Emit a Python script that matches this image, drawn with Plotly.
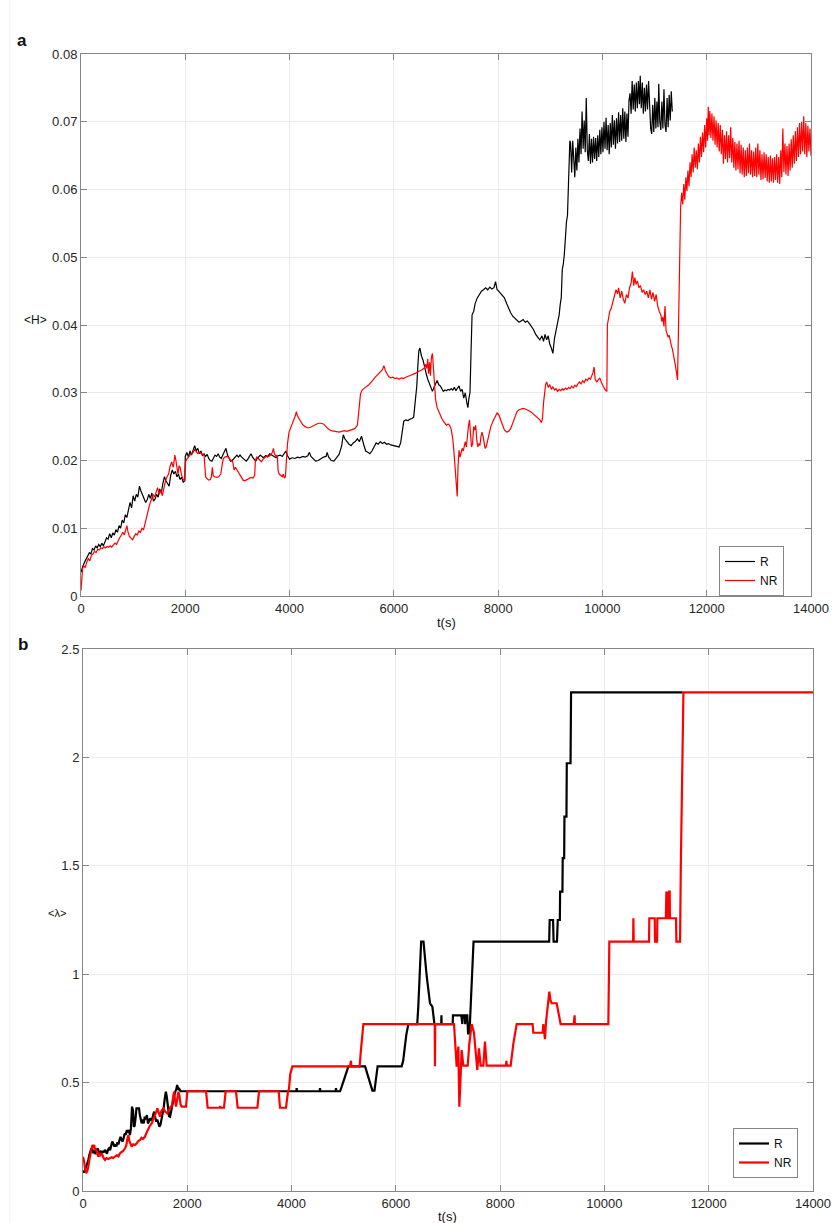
import plotly.graph_objects as go

# ---------------- panel a: mean entropy <H> vs time ----------------
r_h_t = [
    0, 20, 40, 70, 100, 130, 160, 190, 220, 250,
    280, 310, 340, 370, 400, 430, 460, 490, 520, 550,
    580, 610, 640, 670, 700, 730, 760, 790, 820, 850,
    880, 910, 940, 970, 1000, 1030, 1060, 1090, 1120, 1150,
    1180, 1210, 1240, 1270, 1300, 1330, 1360, 1390, 1420, 1450,
    1480, 1510, 1540, 1570, 1600, 1630, 1660, 1690, 1720, 1750,
    1780, 1810, 1840, 1870, 1900, 1930, 1960, 1990, 2000, 2030,
    2060, 2090, 2120, 2150, 2180, 2210, 2240, 2270, 2300, 2330,
    2360, 2390, 2420, 2450, 2480, 2510, 2540, 2570, 2600, 2630,
    2660, 2690, 2720, 2750, 2780, 2810, 2840, 2870, 2900, 2930,
    2960, 2990, 3020, 3050, 3080, 3110, 3140, 3170, 3200, 3230,
    3260, 3290, 3320, 3350, 3380, 3410, 3440, 3470, 3500, 3540,
    3580, 3620, 3660, 3700, 3740, 3780, 3820, 3860, 3900, 3930,
    3960, 4000, 4050, 4100, 4150, 4200, 4250, 4300, 4350, 4380,
    4410, 4450, 4500, 4550, 4600, 4650, 4700, 4720, 4750, 4800,
    4850, 4900, 4950, 5000, 5030, 5060, 5100, 5140, 5180, 5220,
    5260, 5300, 5340, 5380, 5420, 5460, 5500, 5540, 5580, 5620,
    5660, 5700, 5740, 5780, 5820, 5860, 5900, 5940, 5980, 6020,
    6060, 6100, 6130, 6160, 6190, 6230, 6270, 6310, 6350, 6380,
    6410, 6440, 6460, 6480, 6500, 6530, 6560, 6590, 6620, 6650,
    6680, 6710, 6740, 6770, 6800, 6830, 6860, 6890, 6920, 6950,
    6980, 7010, 7040, 7070, 7100, 7130, 7160, 7190, 7220, 7250,
    7280, 7310, 7340, 7370, 7400, 7420, 7440, 7460, 7480, 7500,
    7530, 7560, 7600, 7640, 7680, 7720, 7760, 7800, 7840, 7880,
    7920, 7950, 7980, 8010, 8040, 8080, 8120, 8160, 8200, 8240,
    8280, 8320, 8360, 8400, 8440, 8480, 8520, 8560, 8600, 8640,
    8680, 8720, 8760, 8800, 8840, 8870, 8900, 8930, 8960, 8990,
    9020, 9050, 9080, 9110, 9140, 9170, 9190, 9210, 9230, 9250,
    9270, 9290, 9310, 9330, 9345, 9360, 9375, 9390, 9410, 9430,
    9450, 9470, 9490, 9510, 9530, 9550, 9570, 9590, 9610, 9630,
    9650, 9670, 9690, 9710, 9730, 9750, 9770, 9790, 9810, 9830,
    9850, 9870, 9890, 9910, 9930, 9950, 9970, 9990, 10010, 10030,
    10050, 10070, 10090, 10110, 10130, 10150, 10170, 10190, 10210, 10230,
    10250, 10270, 10290, 10310, 10330, 10350, 10370, 10390, 10410, 10430,
    10450, 10470, 10490, 10510, 10530, 10550, 10570, 10590, 10610, 10630,
    10650, 10670, 10690, 10710, 10725, 10745, 10765, 10785, 10805, 10825,
    10845, 10865, 10885, 10905, 10925, 10945, 10965, 10985, 11005, 11025,
    11045, 11065, 11080, 11100, 11120, 11140, 11160, 11180, 11200, 11220,
    11240, 11260, 11280, 11300, 11320, 11340,
]
r_h_v = [
    0.0035, 0.0042, 0.0045, 0.0050, 0.0055, 0.0058, 0.0064, 0.0062, 0.0070, 0.0068,
    0.0074, 0.0071, 0.0076, 0.0073, 0.0078, 0.0074, 0.0080, 0.0086, 0.0084, 0.0092,
    0.0086, 0.0093, 0.0090, 0.0098, 0.0094, 0.0104, 0.0100, 0.0112, 0.0108, 0.0120,
    0.0116, 0.0128, 0.0138, 0.0130, 0.0148, 0.0140, 0.0150, 0.0146, 0.0162, 0.0155,
    0.0150, 0.0145, 0.0138, 0.0142, 0.0150, 0.0144, 0.0152, 0.0140, 0.0143, 0.0150,
    0.0146, 0.0158, 0.0152, 0.0166, 0.0176, 0.0170, 0.0166, 0.0162, 0.0178, 0.0186,
    0.0180, 0.0184, 0.0176, 0.0180, 0.0172, 0.0175, 0.0168, 0.0170, 0.0206, 0.0212,
    0.0205, 0.0214, 0.0208, 0.0216, 0.0222, 0.0214, 0.0218, 0.0210, 0.0214, 0.0207,
    0.0210, 0.0206, 0.0209, 0.0203, 0.0200, 0.0199, 0.0204, 0.0208, 0.0206, 0.0210,
    0.0205, 0.0203, 0.0208, 0.0212, 0.0218, 0.0208, 0.0203, 0.0199, 0.0200, 0.0203,
    0.0206, 0.0208, 0.0205, 0.0208, 0.0205, 0.0203, 0.0201, 0.0199, 0.0202, 0.0206,
    0.0210, 0.0205, 0.0201, 0.0199, 0.0203, 0.0205, 0.0208, 0.0206, 0.0204, 0.0207,
    0.0206, 0.0210, 0.0208, 0.0206, 0.0204, 0.0207, 0.0208, 0.0206, 0.0210, 0.0214,
    0.0207, 0.0202, 0.0204, 0.0203, 0.0205, 0.0204, 0.0206, 0.0205, 0.0207, 0.0212,
    0.0206, 0.0203, 0.0199, 0.0200, 0.0203, 0.0205, 0.0206, 0.0212, 0.0205, 0.0200,
    0.0199, 0.0205, 0.0209, 0.0222, 0.0238, 0.0232, 0.0228, 0.0224, 0.0222, 0.0226,
    0.0228, 0.0232, 0.0228, 0.0236, 0.0224, 0.0214, 0.0212, 0.0210, 0.0214, 0.0220,
    0.0226, 0.0224, 0.0228, 0.0225, 0.0227, 0.0224, 0.0225, 0.0223, 0.0222, 0.0221,
    0.0220, 0.0220, 0.0226, 0.0240, 0.0258, 0.0260, 0.0259, 0.0261, 0.0262, 0.0264,
    0.0285, 0.0310, 0.0340, 0.0362, 0.0366, 0.0354, 0.0348, 0.0336, 0.0328, 0.0320,
    0.0314, 0.0306, 0.0302, 0.0308, 0.0312, 0.0318, 0.0312, 0.0310, 0.0306, 0.0302,
    0.0304, 0.0303, 0.0305, 0.0304, 0.0306, 0.0304, 0.0308, 0.0303, 0.0307, 0.0310,
    0.0302, 0.0305, 0.0292, 0.0300, 0.0285, 0.0278, 0.0292, 0.0300, 0.0360, 0.0415,
    0.0420, 0.0432, 0.0440, 0.0446, 0.0450, 0.0452, 0.0455, 0.0452, 0.0456, 0.0453,
    0.0455, 0.0464, 0.0452, 0.0450, 0.0447, 0.0444, 0.0440, 0.0432, 0.0424, 0.0418,
    0.0413, 0.0410, 0.0408, 0.0404, 0.0406, 0.0408, 0.0404, 0.0406, 0.0402, 0.0398,
    0.0393, 0.0386, 0.0382, 0.0378, 0.0384, 0.0376, 0.0386, 0.0378, 0.0384, 0.0372,
    0.0366, 0.0358, 0.0380, 0.0392, 0.0405, 0.0415, 0.0430, 0.0440, 0.0482, 0.0490,
    0.0505, 0.0540, 0.0552, 0.0562, 0.0600, 0.0660, 0.0672, 0.0668, 0.0625, 0.0672,
    0.0632, 0.0618, 0.0662, 0.0628, 0.0675, 0.0640, 0.0690, 0.0652, 0.0715, 0.0660,
    0.0702, 0.0655, 0.0735, 0.0658, 0.0642, 0.0682, 0.0638, 0.0675, 0.0640, 0.0678,
    0.0645, 0.0676, 0.0642, 0.0680, 0.0648, 0.0688, 0.0652, 0.0692, 0.0655, 0.0700,
    0.0660, 0.0706, 0.0658, 0.0695, 0.0652, 0.0698, 0.0662, 0.0710, 0.0666, 0.0702,
    0.0660, 0.0705, 0.0668, 0.0714, 0.0670, 0.0710, 0.0672, 0.0720, 0.0675, 0.0715,
    0.0670, 0.0712, 0.0678, 0.0732, 0.0742, 0.0712, 0.0760, 0.0718, 0.0755, 0.0715,
    0.0758, 0.0720, 0.0760, 0.0726, 0.0768, 0.0720, 0.0758, 0.0712, 0.0750, 0.0715,
    0.0755, 0.0718, 0.0760, 0.0710, 0.0690, 0.0682, 0.0725, 0.0685, 0.0735, 0.0690,
    0.0730, 0.0692, 0.0756, 0.0700, 0.0688, 0.0730, 0.0690, 0.0748, 0.0695, 0.0685,
    0.0735, 0.0692, 0.0740, 0.0702, 0.0745, 0.0715,
]

nr_h_t = [
    0, 15, 30, 50, 80, 110, 140, 170, 200, 230,
    260, 290, 320, 350, 380, 410, 440, 470, 500, 530,
    560, 590, 620, 650, 680, 710, 740, 770, 800, 830,
    860, 880, 900, 930, 960, 990, 1020, 1050, 1080, 1110,
    1140, 1170, 1200, 1230, 1260, 1290, 1320, 1350, 1380, 1410,
    1440, 1470, 1500, 1530, 1560, 1590, 1620, 1650, 1680, 1710,
    1740, 1770, 1800, 1820, 1840, 1860, 1880, 1900, 1930, 1960,
    1990, 2005, 2030, 2060, 2090, 2120, 2150, 2180, 2210, 2240,
    2270, 2300, 2330, 2360, 2375, 2390, 2420, 2450, 2480, 2500,
    2520, 2535, 2560, 2600, 2640, 2680, 2710, 2730, 2760, 2790,
    2820, 2850, 2880, 2910, 2935, 2960, 2990, 3020, 3050, 3080,
    3110, 3140, 3170, 3200, 3230, 3260, 3300, 3330, 3345, 3370,
    3400, 3430, 3460, 3490, 3520, 3550, 3580, 3610, 3640, 3670,
    3690, 3710, 3740, 3765, 3780, 3800, 3830, 3860, 3880, 3900,
    3920, 3940, 3960, 3990, 4020, 4050, 4080, 4110, 4130, 4150,
    4180, 4210, 4250, 4300, 4350, 4400, 4450, 4500, 4550, 4600,
    4650, 4700, 4750, 4800, 4850, 4900, 4950, 5000, 5050, 5100,
    5150, 5200, 5250, 5300, 5330, 5360, 5390, 5430, 5470, 5510,
    5550, 5590, 5630, 5670, 5710, 5750, 5780, 5810, 5840, 5870,
    5900, 5940, 5980, 6020, 6060, 6100, 6140, 6180, 6220, 6260,
    6300, 6340, 6380, 6420, 6460, 6500, 6540, 6580, 6610, 6630,
    6650, 6665, 6685, 6700, 6720, 6740, 6760, 6780, 6800, 6830,
    6860, 6890, 6920, 6950, 6980, 7010, 7040, 7070, 7100, 7130,
    7150, 7170, 7190, 7205, 7215, 7230, 7250, 7270, 7290, 7310,
    7330, 7350, 7370, 7390, 7410, 7430, 7450, 7470, 7490, 7510,
    7530, 7550, 7570, 7590, 7610, 7630, 7650, 7670, 7690, 7710,
    7730, 7750, 7770, 7800, 7830, 7860, 7900, 7940, 7980, 8010,
    8040, 8080, 8120, 8160, 8200, 8240, 8280, 8320, 8360, 8400,
    8440, 8480, 8520, 8560, 8600, 8640, 8680, 8720, 8760, 8800,
    8830, 8850, 8870, 8890, 8910, 8930, 8960, 8990, 9020, 9050,
    9080, 9110, 9140, 9170, 9200, 9230, 9260, 9290, 9320, 9350,
    9380, 9410, 9440, 9470, 9500, 9530, 9560, 9590, 9620, 9650,
    9680, 9710, 9740, 9770, 9800, 9820, 9840, 9860, 9890, 9920,
    9950, 9980, 10010, 10040, 10070, 10085, 10095, 10110, 10140, 10170,
    10200, 10230, 10260, 10290, 10310, 10340, 10370, 10400, 10430, 10460,
    10490, 10520, 10550, 10575, 10600, 10620, 10645, 10670, 10700, 10730,
    10760, 10790, 10820, 10850, 10880, 10910, 10940, 10970, 11000, 11030,
    11060, 11090, 11120, 11140, 11160, 11180, 11200, 11220, 11240, 11260,
    11280, 11300, 11320, 11340, 11360, 11380, 11400, 11420, 11440, 11455,
    11470, 11485, 11500, 11520, 11540, 11560, 11580, 11600, 11620, 11640,
    11660, 11680, 11700, 11720, 11740, 11760, 11780, 11800, 11820, 11840,
    11860, 11880, 11900, 11920, 11940, 11960, 11980, 12000, 12015, 12030,
    12045, 12060, 12080, 12100, 12120, 12140, 12160, 12180, 12200, 12220,
    12240, 12260, 12280, 12300, 12320, 12340, 12360, 12380, 12400, 12420,
    12440, 12460, 12480, 12500, 12520, 12540, 12560, 12580, 12600, 12620,
    12640, 12660, 12680, 12700, 12720, 12740, 12760, 12780, 12800, 12820,
    12840, 12860, 12880, 12900, 12920, 12940, 12960, 12980, 13000, 13020,
    13040, 13060, 13080, 13100, 13120, 13140, 13160, 13180, 13200, 13220,
    13240, 13260, 13280, 13300, 13320, 13340, 13360, 13380, 13400, 13420,
    13440, 13460, 13480, 13500, 13520, 13540, 13560, 13580, 13600, 13620,
    13640, 13660, 13680, 13700, 13720, 13740, 13760, 13780, 13800, 13820,
    13840, 13860, 13880, 13900, 13920, 13940, 13960, 13980, 14000,
]
nr_h_v = [
    0.0008, 0.0030, 0.0040, 0.0045, 0.0042, 0.0050, 0.0055, 0.0052, 0.0060, 0.0062,
    0.0066, 0.0064, 0.0069, 0.0068, 0.0071, 0.0070, 0.0073, 0.0071, 0.0073, 0.0072,
    0.0074, 0.0072, 0.0076, 0.0078, 0.0076, 0.0082, 0.0086, 0.0089, 0.0094, 0.0090,
    0.0100, 0.0104, 0.0095, 0.0088, 0.0085, 0.0083, 0.0088, 0.0092, 0.0090, 0.0096,
    0.0094, 0.0100, 0.0098, 0.0108, 0.0116, 0.0128, 0.0136, 0.0142, 0.0150, 0.0146,
    0.0154, 0.0160, 0.0150, 0.0156, 0.0148, 0.0162, 0.0170, 0.0176, 0.0180, 0.0192,
    0.0198, 0.0190, 0.0208, 0.0200, 0.0185, 0.0180, 0.0192, 0.0190, 0.0178, 0.0172,
    0.0170, 0.0198, 0.0202, 0.0206, 0.0208, 0.0210, 0.0212, 0.0216, 0.0212, 0.0210,
    0.0212, 0.0210, 0.0209, 0.0208, 0.0185, 0.0176, 0.0173, 0.0171, 0.0172, 0.0176,
    0.0190, 0.0178, 0.0176, 0.0175, 0.0176, 0.0180, 0.0195, 0.0203, 0.0205, 0.0206,
    0.0205, 0.0202, 0.0200, 0.0198, 0.0186, 0.0190, 0.0186, 0.0181, 0.0177, 0.0173,
    0.0171, 0.0170, 0.0171, 0.0172, 0.0174, 0.0175, 0.0174, 0.0178, 0.0200, 0.0205,
    0.0203, 0.0200, 0.0198, 0.0202, 0.0204, 0.0206, 0.0205, 0.0207, 0.0208, 0.0212,
    0.0218, 0.0210, 0.0206, 0.0208, 0.0185, 0.0180, 0.0178, 0.0176, 0.0180, 0.0174,
    0.0176, 0.0200, 0.0225, 0.0242, 0.0248, 0.0254, 0.0258, 0.0266, 0.0272, 0.0266,
    0.0262, 0.0258, 0.0253, 0.0250, 0.0248, 0.0249, 0.0251, 0.0253, 0.0255, 0.0255,
    0.0254, 0.0250, 0.0246, 0.0244, 0.0243, 0.0243, 0.0242, 0.0243, 0.0244, 0.0243,
    0.0244, 0.0246, 0.0247, 0.0252, 0.0272, 0.0298, 0.0304, 0.0307, 0.0309, 0.0311,
    0.0314, 0.0318, 0.0322, 0.0325, 0.0328, 0.0332, 0.0334, 0.0340, 0.0332, 0.0328,
    0.0324, 0.0322, 0.0323, 0.0321, 0.0322, 0.0320, 0.0322, 0.0321, 0.0323, 0.0324,
    0.0325, 0.0326, 0.0328, 0.0329, 0.0331, 0.0332, 0.0334, 0.0336, 0.0342, 0.0336,
    0.0350, 0.0328, 0.0345, 0.0325, 0.0352, 0.0358, 0.0330, 0.0300, 0.0290, 0.0278,
    0.0272, 0.0266, 0.0262, 0.0258, 0.0255, 0.0252, 0.0254, 0.0252, 0.0246, 0.0232,
    0.0215, 0.0190, 0.0165, 0.0150, 0.0147, 0.0190, 0.0215, 0.0205, 0.0212, 0.0218,
    0.0214, 0.0222, 0.0228, 0.0220, 0.0238, 0.0250, 0.0260, 0.0235, 0.0220, 0.0225,
    0.0250, 0.0245, 0.0252, 0.0230, 0.0220, 0.0225, 0.0222, 0.0235, 0.0242, 0.0236,
    0.0225, 0.0218, 0.0220, 0.0230, 0.0240, 0.0250, 0.0258, 0.0265, 0.0270, 0.0268,
    0.0262, 0.0253, 0.0245, 0.0242, 0.0243, 0.0247, 0.0255, 0.0265, 0.0272, 0.0275,
    0.0276, 0.0277, 0.0276, 0.0275, 0.0273, 0.0271, 0.0268, 0.0266, 0.0262, 0.0260,
    0.0256, 0.0262, 0.0285, 0.0305, 0.0312, 0.0316, 0.0308, 0.0312, 0.0305, 0.0309,
    0.0304, 0.0306, 0.0302, 0.0305, 0.0303, 0.0306, 0.0304, 0.0307, 0.0305, 0.0308,
    0.0306, 0.0310, 0.0307, 0.0311, 0.0309, 0.0313, 0.0316, 0.0313, 0.0318, 0.0315,
    0.0320, 0.0318, 0.0322, 0.0320, 0.0325, 0.0330, 0.0338, 0.0320, 0.0316, 0.0320,
    0.0322, 0.0315, 0.0310, 0.0306, 0.0303, 0.0302, 0.0400, 0.0408, 0.0420, 0.0425,
    0.0435, 0.0442, 0.0452, 0.0446, 0.0455, 0.0440, 0.0450, 0.0438, 0.0432, 0.0445,
    0.0440, 0.0455, 0.0462, 0.0479, 0.0458, 0.0470, 0.0460, 0.0465, 0.0455, 0.0458,
    0.0448, 0.0452, 0.0445, 0.0450, 0.0440, 0.0452, 0.0438, 0.0448, 0.0435, 0.0445,
    0.0428, 0.0420, 0.0415, 0.0405, 0.0412, 0.0398, 0.0428, 0.0392, 0.0388, 0.0382,
    0.0385, 0.0376, 0.0370, 0.0365, 0.0358, 0.0352, 0.0340, 0.0330, 0.0319, 0.0380,
    0.0470, 0.0540, 0.0575, 0.0595, 0.0578, 0.0608, 0.0585, 0.0618, 0.0598, 0.0628,
    0.0605, 0.0640, 0.0618, 0.0652, 0.0625, 0.0662, 0.0632, 0.0658, 0.0630, 0.0668,
    0.0640, 0.0678, 0.0648, 0.0684, 0.0655, 0.0695, 0.0662, 0.0705, 0.0672, 0.0722,
    0.0680, 0.0716, 0.0676, 0.0712, 0.0672, 0.0708, 0.0666, 0.0702, 0.0662, 0.0698,
    0.0656, 0.0695, 0.0652, 0.0688, 0.0638, 0.0680, 0.0645, 0.0686, 0.0640, 0.0680,
    0.0646, 0.0692, 0.0640, 0.0676, 0.0632, 0.0670, 0.0628, 0.0668, 0.0630, 0.0672,
    0.0624, 0.0666, 0.0622, 0.0662, 0.0618, 0.0658, 0.0620, 0.0662, 0.0624, 0.0668,
    0.0622, 0.0658, 0.0618, 0.0656, 0.0620, 0.0662, 0.0618, 0.0668, 0.0622, 0.0658,
    0.0614, 0.0652, 0.0615, 0.0655, 0.0617, 0.0652, 0.0612, 0.0648, 0.0610, 0.0650,
    0.0612, 0.0646, 0.0610, 0.0648, 0.0614, 0.0652, 0.0610, 0.0648, 0.0608, 0.0658,
    0.0618, 0.0690, 0.0626, 0.0668, 0.0622, 0.0664, 0.0620, 0.0668, 0.0628, 0.0674,
    0.0632, 0.0680, 0.0638, 0.0686, 0.0642, 0.0692, 0.0648, 0.0698, 0.0652, 0.0700,
    0.0656, 0.0708, 0.0652, 0.0698, 0.0648, 0.0694, 0.0656, 0.0690, 0.0650,
]

# ---------------- panel b: mean lambda <λ> vs time ----------------
r_l_t = [
    0, 20, 40, 60, 80, 100, 120, 140, 160, 180,
    200, 220, 240, 260, 280, 300, 320, 340, 360, 380,
    400, 420, 440, 460, 480, 500, 520, 540, 560, 580,
    600, 620, 640, 660, 680, 700, 720, 740, 760, 780,
    800, 820, 840, 860, 880, 900, 920, 940, 960, 975,
    990, 1010, 1025, 1050, 1075, 1090, 1110, 1125, 1145, 1165,
    1185, 1205, 1225, 1245, 1265, 1285, 1305, 1325, 1345, 1365,
    1385, 1405, 1425, 1445, 1465, 1485, 1505, 1525, 1545, 1570,
    1590, 1610, 1630, 1650, 1670, 1690, 1710, 1730, 1750, 1770,
    1790, 1805, 1820, 1835, 1850, 1870, 1900, 4090, 4098, 4106,
    4540, 4545, 4552, 4845, 4852, 4860, 4930, 4960, 4990, 5020,
    5050, 5075, 5090, 5410, 5440, 5470, 5500, 5530, 5550, 5590,
    5610, 5630, 5650, 6110, 6140, 6170, 6200, 6240, 6410, 6430,
    6450, 6470, 6485, 6530, 6545, 6560, 6580, 6600, 6630, 6655,
    6700, 6720, 6740, 6870, 6874, 6878, 7090, 7095, 7255, 7262,
    7275, 7282, 7320, 7330, 7340, 7370, 7385, 7400, 7420, 7440,
    7470, 7490, 8940, 8950, 9015, 9025, 9090, 9105, 9145, 9150,
    9195, 9200, 9228, 9233, 9272, 9278, 9350, 9360, 11500,
]
r_l_v = [
    0.095, 0.085, 0.097, 0.110, 0.128, 0.140, 0.165, 0.185, 0.197, 0.190,
    0.175, 0.181, 0.170, 0.190, 0.197, 0.185, 0.175, 0.181, 0.170, 0.185,
    0.178, 0.190, 0.180, 0.172, 0.190, 0.197, 0.188, 0.205, 0.228, 0.220,
    0.205, 0.215, 0.205, 0.225, 0.215, 0.235, 0.250, 0.235, 0.228, 0.245,
    0.265, 0.260, 0.281, 0.270, 0.282, 0.258, 0.290, 0.389, 0.370, 0.297,
    0.300, 0.340, 0.381, 0.381, 0.381, 0.350, 0.320, 0.312, 0.330, 0.312,
    0.343, 0.330, 0.350, 0.312, 0.320, 0.335, 0.328, 0.330, 0.350, 0.366,
    0.340, 0.320, 0.330, 0.310, 0.297, 0.305, 0.330, 0.358, 0.380, 0.430,
    0.458, 0.430, 0.366, 0.345, 0.343, 0.370, 0.400, 0.420, 0.440, 0.458,
    0.470, 0.489, 0.480, 0.466, 0.470, 0.460, 0.460, 0.460, 0.475, 0.460,
    0.460, 0.475, 0.460, 0.460, 0.475, 0.460, 0.460, 0.480, 0.500, 0.520,
    0.540, 0.560, 0.575, 0.575, 0.550, 0.525, 0.505, 0.480, 0.463, 0.463,
    0.500, 0.545, 0.575, 0.575, 0.600, 0.660, 0.720, 0.770, 0.770, 0.850,
    0.980, 1.080, 1.150, 1.150, 1.100, 1.066, 1.020, 0.974, 0.920, 0.866,
    0.850, 0.810, 0.770, 0.770, 0.810, 0.770, 0.770, 0.810, 0.810, 0.770,
    0.770, 0.810, 0.810, 0.770, 0.810, 0.810, 0.727, 0.727, 0.770, 0.880,
    1.050, 1.150, 1.150, 1.250, 1.250, 1.150, 1.150, 1.250, 1.250, 1.381,
    1.381, 1.535, 1.535, 1.727, 1.727, 1.973, 1.973, 2.300, 2.300,
]

nr_l_t = [
    0, 20, 40, 58, 80, 102, 125, 147, 165, 180,
    198, 215, 230, 249, 265, 280, 294, 310, 330, 358,
    380, 400, 422, 450, 480, 518, 550, 580, 614, 650,
    680, 710, 740, 770, 806, 830, 850, 870, 890, 910,
    933, 960, 997, 1030, 1060, 1093, 1120, 1150, 1189, 1220,
    1253, 1280, 1317, 1350, 1381, 1405, 1426, 1450, 1477, 1505,
    1541, 1580, 1618, 1650, 1680, 1701, 1720, 1745, 1765, 1784,
    1805, 1829, 1850, 1870, 1892, 1976, 1990, 2001, 2360, 2391,
    2625, 2630, 2640, 2704, 2736, 2934, 2966, 3344, 3376, 3753,
    3778, 3893, 3932, 3950, 3975, 4015, 5120, 5128, 5140, 5146,
    5305, 5330, 5360, 5377, 6745, 6750, 6756, 7115, 7140, 7166,
    7198, 7217, 7232, 7242, 7262, 7294, 7377, 7409, 7454, 7498,
    7537, 7562, 7594, 7626, 7677, 7709, 7741, 8112, 8120, 8130,
    8202, 8253, 8317, 8623, 8636, 8815, 8828, 8845, 8860, 8880,
    8905, 8925, 8943, 8965, 8988, 9084, 9110, 9135, 9160, 9410,
    9416, 9428, 9434, 10075, 10094, 10550, 10555, 10562, 10855, 10861,
    10965, 10970, 11010, 11015, 11178, 11181, 11188, 11192, 11205, 11210,
    11220, 11225, 11238, 11242, 11252, 11256, 11373, 11380, 11450, 11465,
    11490, 11515, 14000,
]
nr_l_v = [
    0.158, 0.140, 0.100, 0.083, 0.090, 0.112, 0.150, 0.181, 0.200, 0.212,
    0.205, 0.212, 0.190, 0.197, 0.180, 0.170, 0.158, 0.175, 0.165, 0.174,
    0.160, 0.150, 0.143, 0.152, 0.148, 0.151, 0.156, 0.152, 0.158, 0.165,
    0.160, 0.174, 0.180, 0.185, 0.197, 0.210, 0.240, 0.258, 0.230, 0.215,
    0.205, 0.215, 0.212, 0.220, 0.230, 0.235, 0.245, 0.240, 0.251, 0.270,
    0.289, 0.300, 0.312, 0.330, 0.351, 0.365, 0.381, 0.360, 0.343, 0.370,
    0.381, 0.365, 0.358, 0.375, 0.389, 0.389, 0.420, 0.458, 0.420, 0.389,
    0.420, 0.458, 0.440, 0.400, 0.389, 0.389, 0.430, 0.460, 0.460, 0.384,
    0.384, 0.392, 0.384, 0.384, 0.460, 0.460, 0.384, 0.384, 0.460, 0.460,
    0.384, 0.384, 0.460, 0.470, 0.540, 0.575, 0.575, 0.601, 0.601, 0.575,
    0.575, 0.650, 0.740, 0.770, 0.770, 0.575, 0.770, 0.770, 0.680, 0.574,
    0.666, 0.389, 0.470, 0.527, 0.650, 0.578, 0.578, 0.680, 0.770, 0.730,
    0.600, 0.558, 0.658, 0.578, 0.578, 0.689, 0.578, 0.578, 0.600, 0.578,
    0.578, 0.680, 0.770, 0.770, 0.730, 0.730, 0.770, 0.730, 0.700, 0.780,
    0.850, 0.900, 0.920, 0.880, 0.866, 0.866, 0.830, 0.810, 0.770, 0.770,
    0.810, 0.810, 0.770, 0.770, 1.150, 1.150, 1.258, 1.150, 1.150, 1.258,
    1.258, 1.150, 1.150, 1.258, 1.258, 1.381, 1.381, 1.258, 1.258, 1.381,
    1.381, 1.258, 1.258, 1.381, 1.381, 1.258, 1.258, 1.150, 1.150, 1.500,
    2.000, 2.300, 2.300,
]

for a, b in [(r_h_t, r_h_v), (nr_h_t, nr_h_v), (r_l_t, r_l_v), (nr_l_t, nr_l_v)]:
    assert len(a) == len(b), (len(a), len(b))

x_ticks = [0, 2000, 4000, 6000, 8000, 10000, 12000, 14000]
x_tick_text = ["0", "2000", "4000", "6000", "8000", "10000", "12000", "14000"]
h_ticks = [0, 0.01, 0.02, 0.03, 0.04, 0.05, 0.06, 0.07, 0.08]
h_tick_text = ["0", "0.01", "0.02", "0.03", "0.04", "0.05", "0.06", "0.07", "0.08"]
l_ticks = [0, 0.5, 1, 1.5, 2, 2.5]
l_tick_text = ["0", "0.5", "1", "1.5", "2", "2.5"]

W, H = 832, 1223
FONT = "Liberation Sans, Arial, Helvetica, sans-serif"
AX = "#868686"
GRID = "#ebebeb"


def fx(p):
    return p / W


def fy(p):
    return 1 - p / H


fig = go.Figure()
fig.add_trace(go.Scatter(x=r_h_t, y=r_h_v, mode="lines", name="R",
                         line=dict(color="black", width=1.2),
                         xaxis="x", yaxis="y", legend="legend"))
fig.add_trace(go.Scatter(x=nr_h_t, y=nr_h_v, mode="lines", name="NR",
                         line=dict(color="#ff0000", width=1.2),
                         xaxis="x", yaxis="y", legend="legend"))
fig.add_trace(go.Scatter(x=r_l_t, y=r_l_v, mode="lines", name="R",
                         line=dict(color="black", width=2.2),
                         xaxis="x2", yaxis="y2", legend="legend2"))
fig.add_trace(go.Scatter(x=nr_l_t, y=nr_l_v, mode="lines", name="NR",
                         line=dict(color="#ff0000", width=2.2),
                         xaxis="x2", yaxis="y2", legend="legend2"))

axis_common = dict(
    showline=True, linecolor=AX, linewidth=1, mirror="ticks",
    ticks="inside", ticklen=6, tickcolor=AX, tickwidth=1,
    showgrid=True, gridcolor=GRID, gridwidth=1, zeroline=False,
    automargin=False,
    tickfont=dict(family=FONT, size=13, color="#262626"),
)

legend_common = dict(
    xanchor="left", yanchor="top", bgcolor="white",
    bordercolor=AX, borderwidth=1,
    font=dict(family=FONT, size=12, color="#111"),
    tracegroupgap=0, itemwidth=30,
)

fig.update_layout(
    width=W, height=H,
    margin=dict(l=0, r=0, t=0, b=0, autoexpand=False),
    paper_bgcolor="white", plot_bgcolor="white",
    xaxis=dict(domain=[fx(81), fx(811)], anchor="y", range=[0, 14000],
               tickvals=x_ticks, ticktext=x_tick_text, **axis_common),
    yaxis=dict(domain=[fy(596), fy(54)], anchor="x", range=[0, 0.08],
               tickvals=h_ticks, ticktext=h_tick_text, **axis_common),
    xaxis2=dict(domain=[fx(83), fx(813)], anchor="y2", range=[0, 14000],
                tickvals=x_ticks, ticktext=x_tick_text, **axis_common),
    yaxis2=dict(domain=[fy(1191), fy(649)], anchor="x2", range=[0, 2.5],
                tickvals=l_ticks, ticktext=l_tick_text, **axis_common),
    legend=dict(x=fx(719), y=fy(546), **legend_common),
    legend2=dict(x=fx(733), y=fy(1128), **legend_common),
    showlegend=True,
)

annotations = [
    dict(text="<b>a</b>", x=fx(22), y=fy(41), size=17),
    dict(text="<b>b</b>", x=fx(23), y=fy(645), size=17),
    dict(text="&lt;H&gt;", x=fx(35), y=fy(320), size=12),
    dict(text="&lt;λ&gt;", x=fx(57), y=fy(913), size=11),
    dict(text="t(s)", x=fx(446), y=fy(622), size=13),
    dict(text="t(s)", x=fx(447), y=fy(1216), size=13),
]
for a in annotations:
    fig.add_annotation(text=a["text"], x=a["x"], y=a["y"], xref="paper", yref="paper",
                       xanchor="center", yanchor="middle", showarrow=False,
                       font=dict(family=FONT, size=a["size"], color="#111"))

# thin light rule along the left edge of the figure
fig.add_shape(type="line", xref="paper", yref="paper", x0=fx(10), x1=fx(10), y0=0, y1=1,
              line=dict(color="#efefef", width=1))

fig.write_html("out.html")
